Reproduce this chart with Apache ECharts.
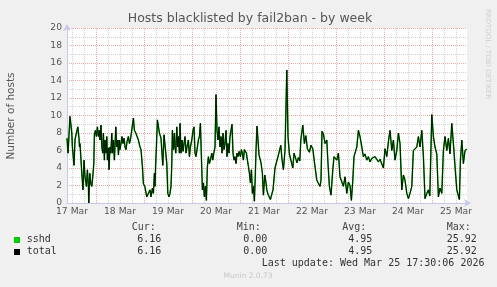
<!DOCTYPE html>
<html><head><meta charset="utf-8">
<script src="https://cdn.jsdelivr.net/npm/echarts@6/dist/echarts.min.js"></script>
<style>html,body{margin:0;padding:0;background:#f0f0f0}#c{width:497px;height:287px}</style>
</head><body><div id="c"></div>
<script>
// hours since 17 Mar 00:00
const hours = [9.5,10,10.5,11,11.9,12.2,13,13.5,14,14.9,15.5,15.75,16,16.4,16.9,17.5,18,18.5,19.2,19.7,20.2,20.4,20.9,21.4,21.9,22.4,22.9,23.2,23.7,24.2,24.7,25.2,25.7,26,26.5,26.9,27.4,27.7,28.2,28.5,29,29.4,29.7,30.2,30.5,31,31.4,31.9,32.2,32.7,33.2,33.9,34.4,34.9,35.2,35.7,36,36.5,37,37.5,38,38.5,39,39.5,40.2,40.7,41.2,41.9,42.7,43.2,43.9,44.5,45.2,46,46.5,47.2,47.7,48.4,49.4,50.2,51,51.5,52.2,52.7,53.2,53.5,53.8,54.2,54.7,55.7,56.5,57.4,58,58.5,59.4,59.9,60.5,61,61.5,61.9,62.2,62.7,63.2,63.5,63.9,64.4,64.9,65.2,65.7,66,66.5,67,67.5,68,68.5,69,69.5,70.2,70.7,71.2,71.9,72.5,73,73.5,74,74.5,75.2,75.7,76.2,76.7,77.2,77.7,78.2,78.7,79.2,79.7,80.2,80.7,81.2,81.9,82.4,82.9,83.5,84,84.5,85,85.5,86,86.5,87,87.5,88,88.5,89,89.5,90,90.5,91,91.5,92,92.5,93,93.5,94,94.5,95,95.5,96.2,96.7,97.2,97.7,98.2,98.7,99.2,99.7,100.2,100.7,101.2,101.7,102.2,102.7,103.2,103.7,104,104.5,105,105.5,106,106.5,107.2,107.7,108.4,108.9,109.4,110,110.7,111.2,111.9,112.5,113.5,114.4,115,115.7,116.4,117,117.7,118.5,119.4,120,120.7,121.4,122.4,123,123.9,124.5,125.2,125.9,126.4,127.4,128.2,128.9,129.7,130.7,131.5,132.4,133.2,134.4,135.2,136,136.5,137,137.7,138.5,139.4,139.9,140.7,141.5,142.4,143,143.7,144.4,145.2,146,146.9,147.7,148.5,149.4,150.2,151,151.7,152.4,153,153.7,154.4,155.2,156,156.9,157.7,158.5,159.4,160.2,161,161.9,162.7,163.5,164.4,165.2,166,166.9,167.7,168.5,169.4,170.2,171,171.9,172.7,173.5,174.4,175.2,176,176.9,177.7,178.5,179.4,180.2,181,181.9,182.7,183.5,184.4,185.2,186,186.9,187.7,188.5,189.4,190.2,190.9,191.9,192.7,193.5,194.4,195.2,196,196.9,197.7,198.5,199.4,200.2,201,201.9,202.7,203.5,204.4,205.2,205.7,206.2,206.9,207.7,208.5,209.4];
const sshd = [7.4,5.7,5.7,9.9,8.0,6.4,4.3,7.2,7.8,8.7,7.4,6.4,6.8,5.3,3.4,1.5,4.9,3.0,1.9,3.8,1.9,0.0,3.4,2.2,1.9,3.0,4.5,7.8,8.3,7.6,8.7,7.6,8.3,7.2,8.9,6.4,5.7,8.0,4.9,7.2,5.7,7.6,4.9,6.3,3.8,6.4,5.7,8.0,5.7,7.2,4.9,8.7,6.4,7.2,5.5,7.2,6.1,6.8,7.6,6.8,7.4,6.4,6.1,7.0,7.6,6.8,7.2,7.4,9.7,8.3,8.0,7.8,7.2,6.4,6.1,4.2,2.2,1.9,0.7,1.1,1.5,0.7,1.7,1.1,3.4,1.9,4.2,6.4,9.5,8.0,7.4,4.3,7.8,7.6,4.5,1.1,0.7,1.1,1.9,4.5,8.3,6.1,8.0,6.4,5.7,8.7,6.4,7.6,5.7,9.1,5.7,7.2,5.9,6.8,7.6,5.7,6.4,7.2,5.3,6.4,7.2,8.3,8.7,5.7,5.3,6.1,7.2,7.6,9.1,5.3,1.5,2.3,0.7,1.9,0.3,4.2,5.3,4.5,4.9,5.7,4.9,5.7,6.4,12.4,8.3,7.2,8.7,6.4,7.6,5.7,8.0,6.1,6.8,8.3,5.3,6.8,5.7,7.6,8.3,9.0,5.7,4.9,5.3,4.5,5.7,5.3,5.9,5.3,6.1,5.7,4.9,6.1,6.1,5.7,4.9,4.2,3.4,2.3,3.8,1.1,1.9,0.2,3.5,6.0,8.8,7.2,5.5,5.3,4.6,3.4,0.9,3.2,2.5,1.5,1.0,0.8,0.4,0.6,1.5,4.0,4.8,5.3,5.5,6.6,5.0,3.8,6.0,15.2,7.6,5.6,5.8,4.0,5.7,5.8,4.6,5.2,4.8,7.2,8.9,6.8,7.7,6.2,5.8,6.6,6.2,4.7,2.6,2.4,1.9,2.6,8.2,7.9,6.8,7.2,4.9,1.9,0.9,3.8,5.3,5.5,4.9,5.7,3.0,2.8,1.9,3.0,1.1,2.4,2.0,0.3,2.6,5.3,5.5,6.4,8.3,7.6,6.4,5.3,5.6,4.9,5.3,4.7,5.1,4.9,5.3,5.1,4.7,5.0,4.9,4.0,6.2,5.3,7.0,8.3,6.0,7.2,4.9,6.0,8.0,6.8,1.5,3.2,2.6,1.1,0.5,1.1,1.9,6.0,5.8,6.4,7.6,6.4,8.3,5.3,0.5,1.1,1.5,0.8,10.1,7.6,6.4,5.6,0.7,1.7,1.1,6.0,7.6,6.0,7.4,5.6,9.1,6.8,4.2,1.5,1.5,0.4,4.8,7.2,4.5,6.0,6.16];
const total = sshd.slice();
const dayLabels = ['17 Mar','18 Mar','19 Mar','20 Mar','21 Mar','22 Mar','23 Mar','24 Mar','25 Mar'];
const dayLabelHours = [12,36,60,84,108,132,156,180,204];
const gridHours = [12,18,24,30,36,42,48,54,60,66,72,78,84,90,96,102,108,114,120,126,132,138,144,150,156,162,168,174,180,186,192,198,204];

const toPairs = v => v.map((y,i)=>[hours[i], y]);
const chart = echarts.init(document.getElementById('c'), null, {renderer:'canvas'});
const mono = 'DejaVu Sans Mono';
const sans = 'DejaVu Sans';
const RED = '#eaa8a8', GRAY = '#d2d2d2';
function txt(x,y,s,opt){return Object.assign({type:'text',x:x,y:y,silent:true,style:Object.assign({text:s,font:'10px "'+mono+'"',fill:'#333',textVerticalAlign:'middle'},opt||{})});}
chart.setOption({
  animation:false,
  backgroundColor:'#f0f0f0',
  grid:{left:67,top:28,width:400,height:175,show:true,backgroundColor:'#ffffff',borderWidth:0},
  xAxis:{type:'value',min:9.5,max:209.5,
    axisLine:{show:true,lineStyle:{color:'#c8c8ec',width:1},symbol:['none','arrow'],symbolSize:[6,7],symbolOffset:[0,4]},
    axisTick:{show:false,customValues:gridHours},
    splitLine:{show:true,lineStyle:{color:[GRAY,GRAY,RED,GRAY],type:'dotted',width:1}},
    axisLabel:{customValues:dayLabelHours,formatter:function(v){return dayLabels[dayLabelHours.indexOf(v)]||'';},fontFamily:sans,fontSize:9.2,color:'#555',margin:4,showMinLabel:true,showMaxLabel:true}
  },
  yAxis:{type:'value',min:0,max:20,interval:2,
    axisLine:{show:true,lineStyle:{color:'#c8c8ec',width:1},symbol:['none','arrow'],symbolSize:[6,7],symbolOffset:[0,4]},
    axisTick:{show:false},
    axisLabel:{fontFamily:sans,fontSize:9.2,color:'#555',margin:5},
    splitLine:{show:true,lineStyle:{color:RED,type:'dotted',width:1}},
    minorTick:{show:false,splitNumber:2},
    minorSplitLine:{show:true,lineStyle:{color:GRAY,type:'dotted',width:1}}
  },
  series:[
    {name:'sshd',type:'line',data:toPairs(sshd),showSymbol:false,symbol:'none',lineStyle:{color:'#00a800',width:1.5},itemStyle:{color:'#00cc00'}},
    {name:'total',type:'line',data:toPairs(total),showSymbol:false,symbol:'none',lineStyle:{color:'#000000',width:1,opacity:0.85},itemStyle:{color:'#000'}}
  ],
  graphic:[
    {type:'text',x:250,y:19,silent:true,style:{text:'Hosts blacklisted by fail2ban - by week',font:'12.5px "'+sans+'"',fill:'#555',textAlign:'center',textVerticalAlign:'middle'}},
    {type:'text',x:11,y:116,rotation:Math.PI/2,silent:true,style:{text:'Number of hosts',font:'10.5px "'+sans+'"',fill:'#555',textAlign:'center',textVerticalAlign:'middle'}},
    {type:'text',x:488,y:54,rotation:-Math.PI/2,silent:true,style:{text:'RRDTOOL / TOBI OETIKER',font:'7px "'+sans+'"',fill:'#cfcfcf',textAlign:'center',textVerticalAlign:'middle'}},
    txt(131.7,227.5,'Cur:',{fill:'#444'}),
    txt(236.7,227.5,'Min:',{fill:'#444'}),
    txt(342.3,227.5,'Avg:',{fill:'#444'}),
    txt(446.7,227.5,'Max:',{fill:'#444'}),
    {type:'rect',shape:{x:14,y:237,width:6,height:6},style:{fill:'#00cc00'},silent:true},
    {type:'rect',shape:{x:14,y:249,width:6,height:6},style:{fill:'#000000'},silent:true},
    txt(26.7,239.5,'sshd'),
    txt(137.3,239.5,'6.16'),
    txt(243.3,239.5,'0.00'),
    txt(348.3,239.5,'4.95'),
    txt(446.7,239.5,'25.92'),
    txt(26.7,251.8,'total'),
    txt(137.3,251.8,'6.16'),
    txt(243.3,251.8,'0.00'),
    txt(348.3,251.8,'4.95'),
    txt(446.7,251.8,'25.92'),
    txt(261.7,263.8,'Last update: Wed Mar 25 17:30:06 2026'),
    {type:'text',x:248,y:276,silent:true,style:{text:'Munin 2.0.73',font:'7.5px "'+sans+'"',fill:'#c8c8c8',textAlign:'center',textVerticalAlign:'middle'}}
  ]
});
</script></body></html>
